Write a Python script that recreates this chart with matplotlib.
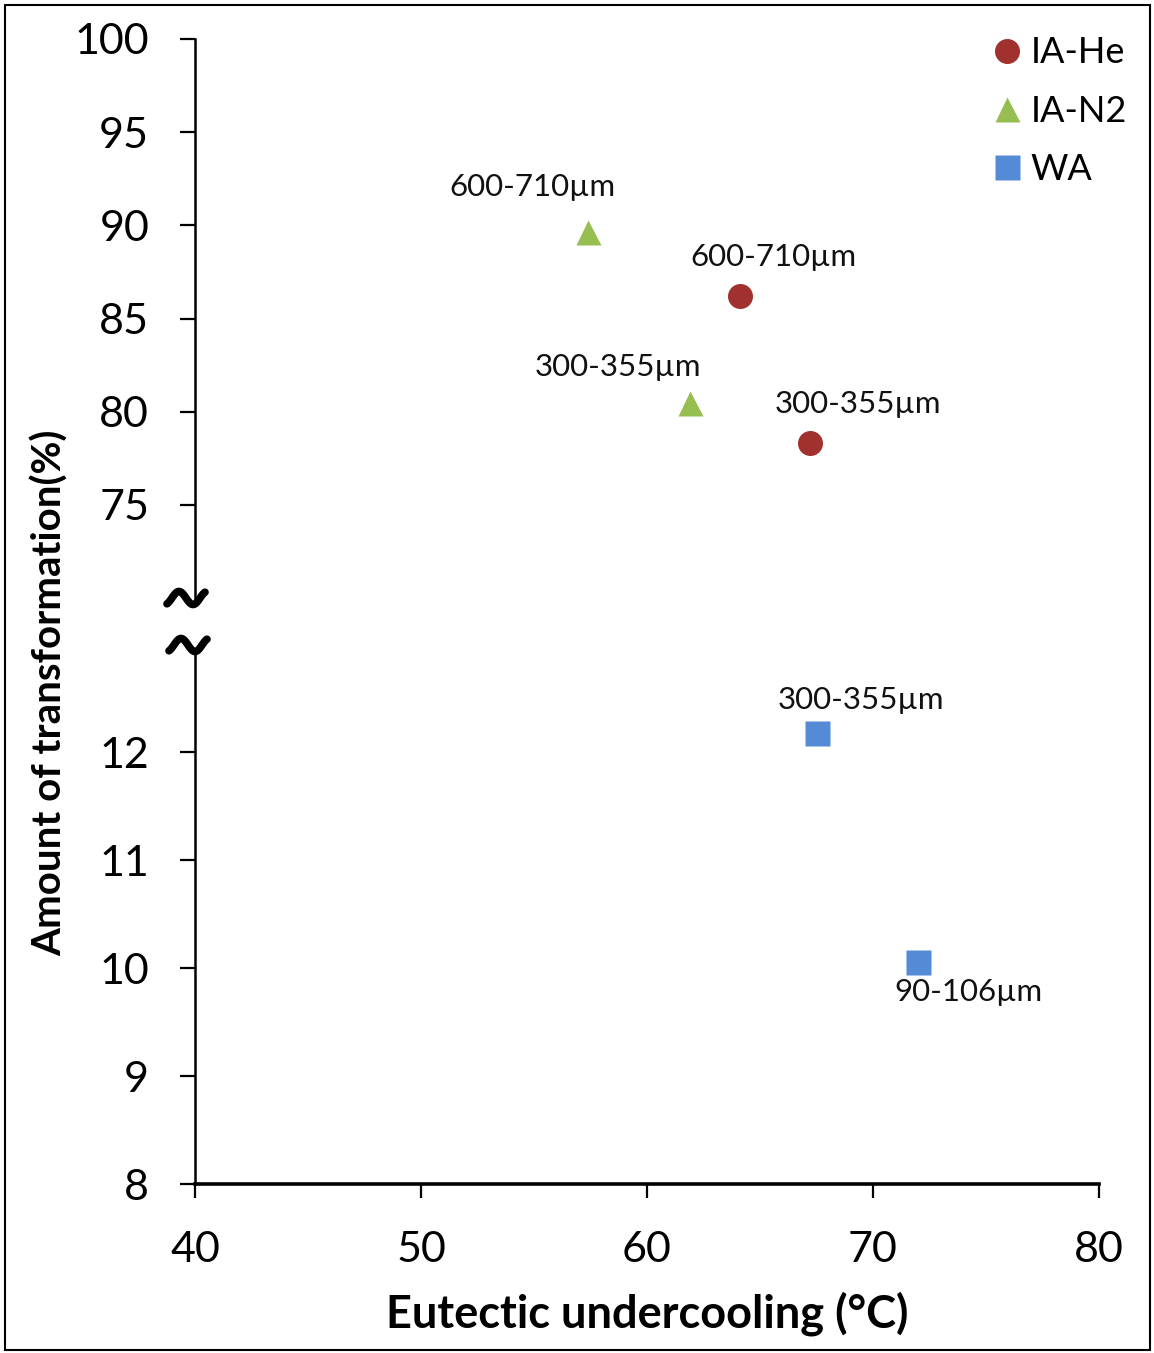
import numpy as np
import matplotlib
matplotlib.use("Agg")
import matplotlib.pyplot as plt
from matplotlib.lines import Line2D
from matplotlib.patches import Rectangle
from matplotlib.transforms import ScaledTranslation

plt.rcParams['font.family'] = ['Lato', 'DejaVu Sans']

# ---- data ----
series_names = ["IA-He", "IA-N2", "WA"]
he_x = [64.1, 67.2]
he_y = [86.2, 78.3]
he_labels = ["600-710\u00b5m", "300-355\u00b5m"]
n2_x = [57.4, 61.9]
n2_y = [89.65, 80.47]
n2_labels = ["600-710\u00b5m", "300-355\u00b5m"]
wa_x = [67.5, 72.0]
wa_y = [12.18, 10.06]
wa_labels = ["300-355\u00b5m", "90-106\u00b5m"]
x_ticks = [40, 50, 60, 70, 80]
upper_ticks = [75, 80, 85, 90, 95, 100]
lower_ticks = [8, 9, 10, 11, 12]

C_HE = '#A0312E'
C_N2 = '#96BE50'
C_WA = '#558AD7'

W, H = 1154, 1353
fig = plt.figure(figsize=(W / 100, H / 100), dpi=100)

def frac(left, top, right, bottom):
    return [left / W, 1 - bottom / H, (right - left) / W, (bottom - top) / H]

ax_top = fig.add_axes(frac(195, 39, 1099, 598))
ax_bot = fig.add_axes(frac(195, 652, 1099, 1184))

MS = 18
ax_top.plot(he_x, he_y, 'o', color=C_HE, ms=MS, mec='none', label=series_names[0])
ax_top.plot(n2_x, n2_y, '^', color=C_N2, ms=MS, mec='none', label=series_names[1])
ax_bot.plot(wa_x, wa_y, 's', color=C_WA, ms=MS, mec='none', label=series_names[2])

lab_fs = 22.5
he_off = [(24, 28), (35, 28)]
n2_off = [(-40, 32), (-52, 26)]
wa_off = [(32, 24), (36, -22)]
for xs, ys, ls, offs, ax in [(he_x, he_y, he_labels, he_off, ax_top),
                             (n2_x, n2_y, n2_labels, n2_off, ax_top),
                             (wa_x, wa_y, wa_labels, wa_off, ax_bot)]:
    for x, y, l, o in zip(xs, ys, ls, offs):
        ax.annotate(l, (x, y), xytext=o, textcoords='offset points',
                    ha='center', va='center', fontsize=lab_fs, color='#111111')

for ax in (ax_top, ax_bot):
    ax.set_xlim(40, 80)
    ax.spines['top'].set_visible(False)
    ax.spines['right'].set_visible(False)
    ax.spines['left'].set_linewidth(1.8)
    ax.tick_params(axis='y', direction='out', length=11, width=1.6, pad=22,
                   labelsize=31)
    ax.patch.set_alpha(0)

ax_top.set_ylim(70, 100)
ax_top.set_yticks(upper_ticks)
ax_top.spines['bottom'].set_visible(False)
ax_top.tick_params(axis='x', bottom=False, labelbottom=False)

ax_bot.set_ylim(8, 12.93)
ax_bot.set_yticks(lower_ticks)
ax_bot.set_xticks(x_ticks)
ax_bot.spines['bottom'].set_linewidth(2.6)
ax_bot.tick_params(axis='x', direction='out', length=10, width=1.6, pad=24,
                   labelsize=31)
ax_bot.set_xlabel("Eutectic undercooling (\u00b0C)", fontsize=32.5,
                  fontweight='bold', labelpad=16)

fig.text(50 / W, 1 - 693 / H, "Amount of transformation(%)", rotation=90,
         ha='center', va='center', fontsize=29, fontweight='bold')

# break marks
t = np.linspace(-0.35 * np.pi, 2.35 * np.pi, 80)
tx = (t - np.pi) / (2.7 * np.pi) * 38 / 100  # inches
ty = np.sin(t) * 6.5 / 100
for ax, ay, ox, oy in [(ax_top, 0, -9, 0), (ax_bot, 1, -7, 7)]:
    tr = fig.dpi_scale_trans + ScaledTranslation(0, ay, ax.transAxes) + \
        ScaledTranslation(ox / 100, oy / 100, fig.dpi_scale_trans)
    ln = Line2D(tx, ty, color='black', lw=5.5, solid_capstyle='round',
                transform=tr, clip_on=False)
    fig.add_artist(ln)

# legend
handles = [Line2D([], [], marker='o', ls='none', color=C_HE, ms=MS, mec='none'),
           Line2D([], [], marker='^', ls='none', color=C_N2, ms=MS, mec='none'),
           Line2D([], [], marker='s', ls='none', color=C_WA, ms=MS, mec='none')]
fig.legend(handles, series_names, loc='upper right',
           bbox_to_anchor=(1152 / W, 1 - 11 / H), frameon=False, fontsize=26,
           handlelength=0.6, handletextpad=0.35, labelspacing=0.7,
           borderpad=0.2)

fig.add_artist(Rectangle((5 / W, 3 / H), 1145 / W, 1345 / H,
                         transform=fig.transFigure, fill=False,
                         edgecolor='black', lw=1.5))

fig.savefig("out.png", dpi=100)
